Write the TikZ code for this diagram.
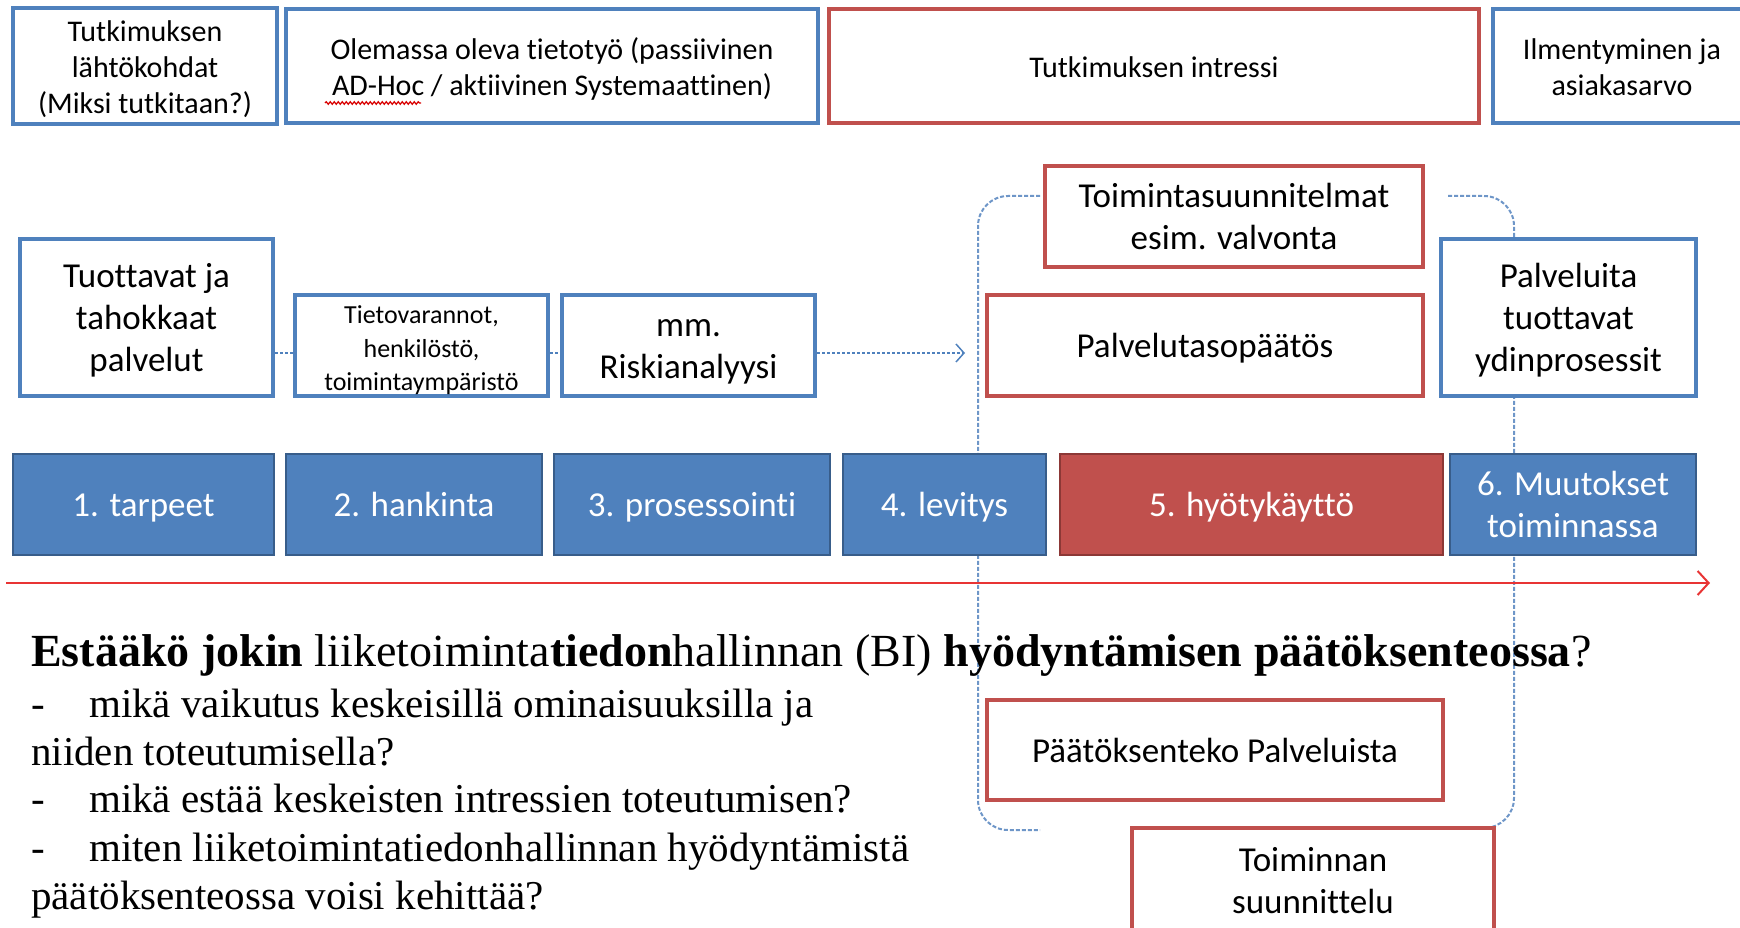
\documentclass[tikz,border=0pt]{standalone}
\usepackage{fontspec}
\setmainfont{Carlito}[Ligatures=NoCommon]
\newfontfamily\timesfont{Liberation Serif}[Ligatures=NoCommon]
\usetikzlibrary{arrows.meta,decorations.pathmorphing}

\definecolor{boxblue}{HTML}{4F81BD}
\definecolor{boxred}{HTML}{C0504D}
\definecolor{barblueedge}{HTML}{385D8A}
\definecolor{barrededge}{HTML}{8C3836}
\definecolor{timeline}{RGB}{232,52,52}
\definecolor{bracketblue}{RGB}{110,150,200}

% opening strut with a little extra head room, so the text sits slightly low
\newcommand\topstrut{\rule[-0.3\baselineskip]{0pt}{\dimexpr\baselineskip+8pt\relax}}
\newcommand\smallstrut{\rule{0pt}{\dimexpr0.7\baselineskip+4pt\relax}}

\begin{document}
\begin{tikzpicture}[x=1pt,y=-1pt,
  frame/.style={line width=4.5pt,fill=white,align=center,inner sep=0pt,text=black},
  bluebox/.style={frame,draw=boxblue},
  redbox/.style={frame,draw=boxred},
  toptext/.style={font=\fontsize{30}{36}\selectfont},
  midtext/.style={font=\fontsize{35}{42}\selectfont},
  smalltext/.style={font=\fontsize{26}{33.5}\selectfont},
  phase/.style={fill=boxblue,draw=barblueedge,line width=2.5pt,text=white,
    align=center,inner sep=0pt,font=\fontsize{35}{42}\selectfont},
  redphase/.style={phase,fill=boxred,draw=barrededge},
  bracketline/.style={draw=bracketblue,line width=2pt,dash pattern=on 4pt off 2pt,
    rounded corners=30pt},
  flowline/.style={draw=boxblue,line width=1.5pt,dash pattern=on 3pt off 2pt},
  btext/.style={font=\timesfont\fontsize{41}{48}\selectfont,inner sep=0pt},
  titletext/.style={font=\timesfont\fontsize{46}{52}\selectfont,inner sep=0pt}
]
\useasboundingbox (0,0) rectangle (1740,928);

% dashed brackets around the usage stage
\draw[bracketline] (1040,196) -- (978,196) -- (978,830) -- (1040,830);
\draw[bracketline] (1448,196) -- (1514,196) -- (1514,828) -- (1448,828);

% top row: research framing
\node[bluebox,toptext,minimum width=264pt,minimum height=114pt] (top1) at (145,66)
  {\topstrut Tutkimuksen\\lähtökohdat\\(Miksi tutkitaan?)\strut};
\node[bluebox,toptext,minimum width=532pt,minimum height=114pt] (top2) at (552,66)
  {\topstrut Olemassa oleva tietotyö (passiivinen\\AD-Hoc / aktiivinen Systemaattinen)\strut};
\node[redbox,toptext,minimum width=650pt,minimum height=114pt] (top3) at (1154,66)
  {\topstrut Tutkimuksen intressi\strut};
\node[bluebox,toptext,minimum width=258pt,minimum height=114pt] (top4) at (1622,66)
  {\topstrut Ilmentyminen ja\\asiakasarvo\strut};
\draw[red!85!black,line width=1.2pt,decorate,
  decoration={snake,amplitude=1.3pt,segment length=4pt}] (325,103) -- (421,103);

% flow of the middle row
\coordinate (aend) at (965,353);
\node[bluebox,midtext,minimum width=253pt,minimum height=157pt] (tuot) at (146.5,317.5)
  {\topstrut Tuottavat ja\\tahokkaat\\palvelut\strut};
\node[bluebox,smalltext,minimum width=253pt,minimum height=101pt] (tieto) at (421.5,345.5)
  {\smallstrut Tietovarannot,\\henkilöstö,\\toimintaympäristö};
\node[bluebox,midtext,minimum width=253pt,minimum height=101pt] (riski) at (688.5,345.5)
  {\topstrut mm.\\Riskianalyysi\strut};
\draw[flowline] (tuot.east |- aend) -- (tieto.west |- aend);
\draw[flowline] (tieto.east |- aend) -- (riski.west |- aend);
\draw[flowline,-{Straight Barb[length=8pt,width=18pt,line width=1.5pt]}]
  (riski.east |- aend) -- (aend);

\node[redbox,midtext,minimum width=378pt,minimum height=101pt] (toim) at (1234,216.5)
  {\topstrut Toimintasuunnitelmat\\esim. valvonta\strut};
\node[redbox,midtext,minimum width=436pt,minimum height=101pt] (palv) at (1205,345.5)
  {\topstrut Palvelutasopäätös\strut};
\node[bluebox,midtext,minimum width=255pt,minimum height=157pt] (ydin) at (1568.5,317.5)
  {\topstrut Palveluita\\tuottavat\\ydinprosessit\strut};

% phase bar
\node[phase,minimum width=261pt,minimum height=101pt] (p1) at (143.5,504.5) {\topstrut 1. tarpeet\strut};
\node[phase,minimum width=256pt,minimum height=101pt] (p2) at (414,504.5) {\topstrut 2. hankinta\strut};
\node[phase,minimum width=276pt,minimum height=101pt] (p3) at (692,504.5) {\topstrut 3. prosessointi\strut};
\node[phase,minimum width=203pt,minimum height=101pt] (p4) at (944.5,504.5) {\topstrut 4. levitys\strut};
\node[redphase,minimum width=383pt,minimum height=101pt] (p5) at (1251.5,504.5) {\topstrut 5. hyötykäyttö\strut};
\node[phase,minimum width=246pt,minimum height=101pt] (p6) at (1573,504.5) {\topstrut 6. Muutokset\\toiminnassa\strut};

% time line
\coordinate (tl0) at (6,583);
\coordinate (tl1) at (1710,583);
\draw[timeline,line width=2pt,-{Straight Barb[length=11pt,width=24pt,line width=2pt]}] (tl0) -- (tl1);

% lower boxes
\node[redbox,midtext,minimum width=456pt,minimum height=100pt] (paat) at (1215,750)
  {\topstrut Päätöksenteko Palveluista\strut};
\node[redbox,midtext,minimum width=362pt,minimum height=104pt] (suun) at (1313,880)
  {\topstrut Toiminnan\\suunnittelu\strut};

% research questions
\node[titletext,anchor=base west] (q0) at (31,666)
  {\textbf{Estääkö jokin} liiketoiminta\textbf{tiedon}hallinnan (BI) \textbf{hyödyntämisen päätöksenteossa}?};
\node[btext,anchor=base west] (q1) at (31,717)
  {\makebox[58pt][l]{-}mikä vaikutus keskeisillä ominaisuuksilla ja};
\node[btext,anchor=base west] (q2) at (31,765)
  {niiden toteutumisella?};
\node[btext,anchor=base west] (q3) at (31,812)
  {\makebox[58pt][l]{-}mikä estää keskeisten intressien toteutumisen?};
\node[btext,anchor=base west] (q4) at (31,861)
  {\makebox[58pt][l]{-}miten liiketoimintatiedonhallinnan hyödyntämistä};
\node[btext,anchor=base west] (q5) at (31,909)
  {päätöksenteossa voisi kehittää?};
\end{tikzpicture}
\end{document}
